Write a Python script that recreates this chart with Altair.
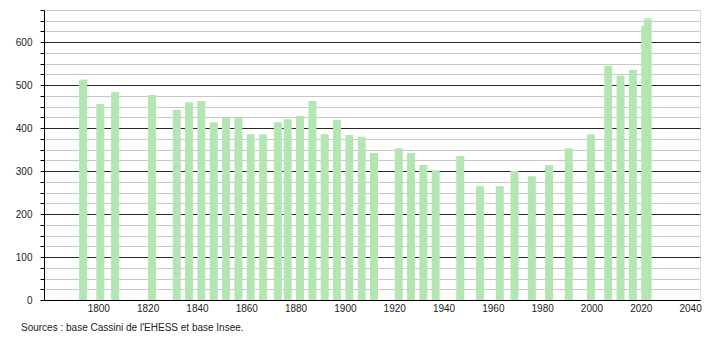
import altair as alt
import pandas as pd

years = [1793, 1800, 1806, 1821, 1831, 1836, 1841, 1846, 1851, 1856, 1861, 1866,
         1872, 1876, 1881, 1886, 1891, 1896, 1901, 1906, 1911, 1921, 1926, 1931,
         1936, 1946, 1954, 1962, 1968, 1975, 1982, 1990, 1999, 2006, 2011, 2016,
         2021, 2022]
population = [513, 456, 484, 477, 443, 460, 463, 414, 425, 425, 386, 386,
              414, 421, 428, 463, 386, 419, 384, 380, 342, 353, 342, 314,
              302, 335, 265, 265, 300, 288, 314, 353, 386, 545, 522, 536,
              638, 655]
x_ticks = [1800, 1820, 1840, 1860, 1880, 1900, 1920, 1940, 1960, 1980, 2000, 2020, 2040]
y_ticks = [v * 25 for v in range(0, 28)]
source_text = "Sources : base Cassini de l'EHESS et base Insee."

df = pd.DataFrame({"year": years, "pop": population})

FONT = "Liberation Sans"

chart = alt.Chart(df).mark_bar(color="#b3e6b3", size=8, xOffset=2).encode(
    x=alt.X("year:Q",
            scale=alt.Scale(domain=[1780, 2042], nice=False, zero=False),
            axis=alt.Axis(values=x_ticks, title=None, grid=False, ticks=False,
                          tickSize=0, labelPadding=3, format="d",
                          domainColor="#000", domainWidth=1,
                          labelFont=FONT, labelFontSize=10, labelColor="#222",
                          labelOverlap=False, labelFlush=False)),
    y=alt.Y("pop:Q",
            scale=alt.Scale(domain=[0, 675], nice=False),
            axis=alt.Axis(values=y_ticks, title=None,
                          labelExpr="datum.value % 100 == 0 ? datum.label : ''",
                          grid=True,
                          gridColor={"condition": {"test": "datum.value % 100 == 0", "value": "#2a2a2a"},
                                     "value": "#c8c8c8"},
                          gridWidth=1,
                          tickSize=4, tickColor="#000", labelPadding=8,
                          domainColor="#000", domainWidth=1,
                          labelFont=FONT, labelFontSize=10, labelColor="#222",
                          labelOverlap=False)),
).properties(
    width=656,
    height=290,
    autosize=alt.AutoSizeParams(type="none"),
    padding={"left": 44, "top": 10, "right": 10, "bottom": 40},
    title=alt.TitleParams(source_text, orient="bottom", anchor="start", frame="group",
                          fontSize=10, font=FONT, fontWeight="normal",
                          color="#222", dx=-23, offset=10),
).configure_view(stroke=None).configure(background="white")

chart.save("out.html", embed_options={"renderer": "svg", "actions": False})
